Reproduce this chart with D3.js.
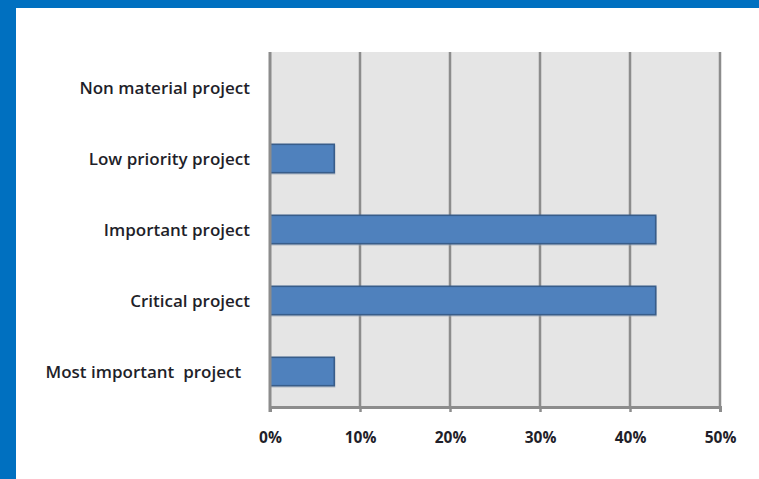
<!DOCTYPE html>
<html>
<head>
<meta charset="utf-8">
<script src="https://cdn.jsdelivr.net/npm/d3@7"></script>
<style>
  html, body { margin: 0; padding: 0; background: #ffffff; }
  svg { display: block; }
  text { white-space: pre; }
</style>
</head>
<body>
<svg id="chart" width="759" height="479"></svg>
<script>
// Project priority categories, top to bottom
const categories = [
  "Non material project",
  "Low priority project",
  "Important project",
  "Critical project",
  "Most important  project  "
];
// Share of responses per category (fraction of 1)
const shares = [0, 1 / 14, 6 / 14, 6 / 14, 1 / 14];
// Horizontal axis ticks
const tickValues = [0, 0.1, 0.2, 0.3, 0.4, 0.5];

const svg = d3.select("#chart");
const W = 759, H = 479;

// Page frame: blue strips on the top and left edges
svg.append("rect").attr("x", 0).attr("y", 0).attr("width", W).attr("height", H).attr("fill", "#0070C0");
svg.append("rect").attr("x", 16).attr("y", 8).attr("width", W - 16).attr("height", H - 8).attr("fill", "#ffffff");

const plot = { left: 270, right: 720, top: 52, bottom: 407 };

const x = d3.scaleLinear().domain([0, 0.5]).range([plot.left, plot.right]);
const y = d3.scaleBand().domain(categories).range([plot.top, plot.bottom]).paddingInner(0.6).paddingOuter(0.3);

const fontFamily = "'Open Sans', Lato, sans-serif";

// Plot background
svg.append("rect")
  .attr("x", plot.left).attr("y", plot.top)
  .attr("width", plot.right - plot.left).attr("height", plot.bottom - plot.top)
  .attr("fill", "#E5E5E5");

// Vertical gridlines
svg.append("g")
  .selectAll("line")
  .data(tickValues.slice(1))
  .join("line")
  .attr("x1", d => x(d)).attr("x2", d => x(d))
  .attr("y1", plot.top).attr("y2", plot.bottom)
  .attr("stroke", "#8C8C8C")
  .attr("stroke-width", 2.5);

// Bars
const band = y.bandwidth();
const bars = svg.append("g");
const barData = categories.map((c, i) => ({ c, v: shares[i] })).filter(d => d.v > 0);
bars.selectAll("rect.shadow")
  .data(barData)
  .join("rect")
  .attr("class", "shadow")
  .attr("x", x(0)).attr("y", d => y(d.c) + 1)
  .attr("width", d => x(d.v) - x(0) + 1).attr("height", band + 1)
  .attr("fill", "#9aa5b3").attr("opacity", 0.5);
bars.selectAll("rect.bar")
  .data(barData)
  .join("rect")
  .attr("class", "bar")
  .attr("x", x(0)).attr("y", d => y(d.c))
  .attr("width", d => x(d.v) - x(0)).attr("height", band)
  .attr("fill", "#4F81BD")
  .attr("stroke", "#385D8A")
  .attr("stroke-width", 1.6);

// Horizontal axis
const xAxis = d3.axisBottom(x)
  .tickValues(tickValues)
  .tickFormat(d3.format(".0%"))
  .tickSize(5)
  .tickPadding(20);
const gx = svg.append("g")
  .attr("transform", `translate(0,${plot.bottom})`)
  .call(xAxis);
gx.select(".domain").attr("stroke", "#8C8C8C").attr("stroke-width", 3);
gx.selectAll(".tick line").attr("stroke", "#8C8C8C").attr("stroke-width", 2.5);
gx.selectAll(".tick text")
  .attr("fill", "#1F1F2A")
  .attr("font-family", fontFamily)
  .attr("font-weight", "bold")
  .attr("font-size", 15.5);

// Vertical axis
const yAxis = d3.axisLeft(y).tickSize(0).tickPadding(20);
const gy = svg.append("g")
  .attr("transform", `translate(${plot.left},0)`)
  .call(yAxis);
gy.select(".domain").remove();
gy.selectAll(".tick text")
  .attr("fill", "#1F1F2A")
  .attr("font-family", fontFamily)
  .attr("font-weight", 600)
  .attr("font-size", 17)
  .attr("dy", "0.36em");

// Left axis line drawn over the bars
svg.append("line")
  .attr("x1", plot.left).attr("x2", plot.left)
  .attr("y1", plot.top).attr("y2", plot.bottom + 5)
  .attr("stroke", "#8C8C8C").attr("stroke-width", 3);
</script>
</body>
</html>
